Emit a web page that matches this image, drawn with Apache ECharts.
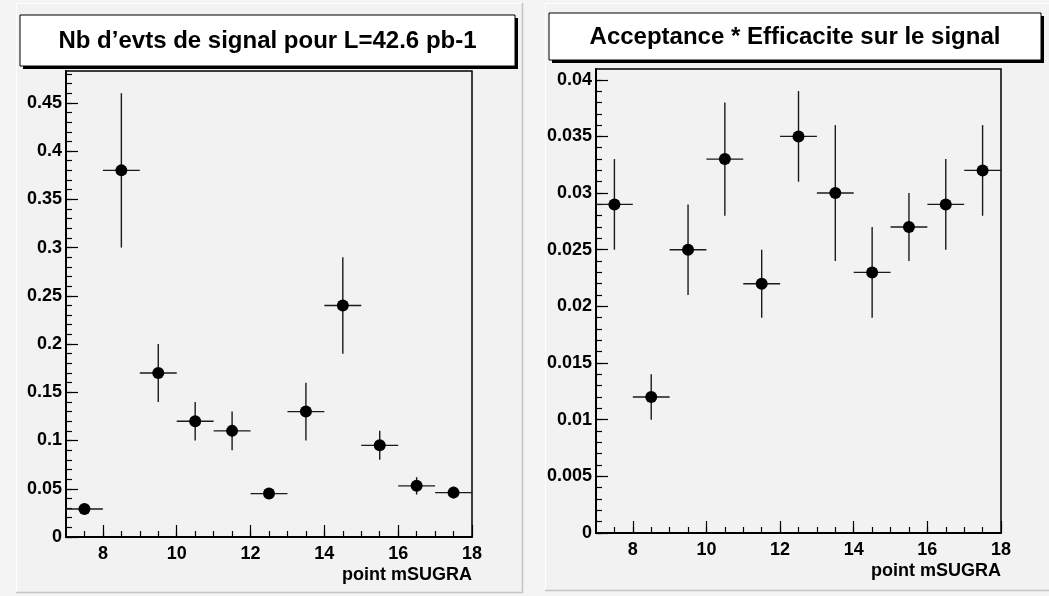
<!DOCTYPE html>
<html>
<head>
<meta charset="utf-8">
<script src="https://cdn.jsdelivr.net/npm/echarts@6/dist/echarts.min.js"></script>
<style>
html,body{margin:0;padding:0;background:#f4f4f4;}
#chart{width:1049px;height:596px;}
</style>
</head>
<body>
<div id="chart"></div>
<script>
// ---- data ----
var pointX = [7.5, 8.5, 9.5, 10.5, 11.5, 12.5, 13.5, 14.5, 15.5, 16.5, 17.5];
var signalValues = [0.029, 0.38, 0.17, 0.12, 0.11, 0.045, 0.13, 0.24, 0.095, 0.053, 0.046];
var signalErrors = [0.003, 0.08, 0.03, 0.02, 0.02, 0.004, 0.03, 0.05, 0.015, 0.009, 0.006];
var acceptValues = [0.029, 0.012, 0.025, 0.033, 0.022, 0.035, 0.030, 0.023, 0.027, 0.029, 0.032];
var acceptErrors = [0.004, 0.002, 0.004, 0.005, 0.003, 0.004, 0.006, 0.004, 0.003, 0.004, 0.004];
var binHalfWidth = 0.5;

// ---- axis ticks ----
var xTicks = [8, 10, 12, 14, 16, 18];
var xMinorTicks = [7.5, 8, 8.5, 9, 9.5, 10, 10.5, 11, 11.5, 12, 12.5, 13, 13.5, 14, 14.5, 15, 15.5, 16, 16.5, 17, 17.5];
var xRange = [7, 18];
var leftYTicks = [0, 0.05, 0.1, 0.15, 0.2, 0.25, 0.3, 0.35, 0.4, 0.45];
var leftYRange = [0, 0.483];
var rightYTicks = [0, 0.005, 0.01, 0.015, 0.02, 0.025, 0.03, 0.035, 0.04];
var rightYRange = [0, 0.04095];

var leftTitle = 'Nb d\u2019evts de signal pour L=42.6 pb-1';
var rightTitle = 'Acceptance * Efficacite sur le signal';
var xTitle = 'point mSUGRA';

function subdivide(ticks, n, maxVal) {
  var out = [];
  var step = (ticks[1] - ticks[0]) / n;
  for (var v = ticks[0]; v <= maxVal + 1e-12; v += step) {
    out.push(+v.toFixed(6));
  }
  return out;
}
var leftYMinor = subdivide(leftYTicks, 5, leftYRange[1]);
var rightYMinor = subdivide(rightYTicks, 5, rightYRange[1]);

var FONT = '"Liberation Sans", Arial, Helvetica, sans-serif';

function fmt(v) {
  if (v === 0) return '0';
  return String(+v.toFixed(4));
}

function xAxes(grid) {
  return [{
    gridIndex: grid, type: 'value', min: xRange[0], max: xRange[1], position: 'bottom',
    axisLine: {show: true, onZero: false, lineStyle: {color: '#000', width: 2}},
    axisTick: {show: true, inside: true, length: 12, customValues: xTicks, lineStyle: {color: '#000', width: 1.2}},
    axisLabel: {show: true, customValues: xTicks, color: '#000', fontSize: 18, fontWeight: 'bold', fontFamily: FONT, margin: 8},
    splitLine: {show: false},
    name: xTitle, nameLocation: 'end', nameGap: 0,
    nameTextStyle: {color: '#000', fontSize: 18, fontWeight: 'bold', fontFamily: FONT, align: 'right', verticalAlign: 'top', padding: [29, 0, 0, 0]}
  }, {
    gridIndex: grid, type: 'value', min: xRange[0], max: xRange[1], position: 'bottom', offset: 0,
    axisLine: {show: false, onZero: false},
    axisTick: {show: true, inside: true, length: 6, customValues: xMinorTicks, lineStyle: {color: '#000', width: 1.2}},
    axisLabel: {show: false},
    splitLine: {show: false}
  }];
}
function yAxes(grid, range, ticks, minor) {
  return [{
    gridIndex: grid, type: 'value', min: range[0], max: range[1], position: 'left',
    axisLine: {show: true, onZero: false, lineStyle: {color: '#000', width: 2}},
    axisTick: {show: true, inside: true, length: 12, customValues: ticks, lineStyle: {color: '#000', width: 1.2}},
    axisLabel: {show: true, customValues: ticks, color: '#000', fontSize: 18, fontWeight: 'bold', fontFamily: FONT, margin: 4, formatter: fmt},
    splitLine: {show: false}
  }, {
    gridIndex: grid, type: 'value', min: range[0], max: range[1], position: 'left', offset: 0,
    axisLine: {show: false, onZero: false},
    axisTick: {show: true, inside: true, length: 6, customValues: minor, lineStyle: {color: '#000', width: 1.2}},
    axisLabel: {show: false},
    splitLine: {show: false}
  }];
}

function errData(values, errors) {
  return pointX.map(function (x, i) { return [x, values[i], errors[i]]; });
}
function ptData(values) {
  return pointX.map(function (x, i) { return [x, values[i]]; });
}
function renderErr(params, api) {
  var x = api.value(0), y = api.value(1), e = api.value(2);
  var l = api.coord([x - binHalfWidth, y]);
  var r = api.coord([x + binHalfWidth, y]);
  var t = api.coord([x, y + e]);
  var b = api.coord([x, y - e]);
  var style = {stroke: '#1a1a1a', lineWidth: 1.4};
  return {
    type: 'group',
    children: [
      {type: 'line', shape: {x1: l[0], y1: l[1], x2: r[0], y2: r[1]}, style: style},
      {type: 'line', shape: {x1: t[0], y1: t[1], x2: b[0], y2: b[1]}, style: style}
    ]
  };
}

function titleBox(x, y, w, h, text) {
  return {
    type: 'group', children: [
      {type: 'rect', shape: {x: x + 3, y: y + 3, width: w, height: h}, style: {fill: '#000'}},
      {type: 'rect', shape: {x: x, y: y, width: w, height: h}, style: {fill: '#fff', stroke: '#000', lineWidth: 1}},
      {type: 'text', x: x + w / 2, y: y + h / 2 + 1, style: {text: text, fill: '#000', font: 'bold 24px ' + FONT, textAlign: 'center', textVerticalAlign: 'middle'}}
    ]
  };
}
function pad(x, y, w, h) {
  return {
    type: 'group', silent: true, z: -10, children: [
      {type: 'rect', z: -10, shape: {x: x, y: y, width: w, height: h}, style: {fill: '#f2f2f2', stroke: null}},
      {type: 'polyline', z: -9, shape: {points: [[x + 0.5, y + h], [x + 0.5, y + 0.5], [x + w, y + 0.5]]}, style: {stroke: '#ffffff', lineWidth: 1, fill: null}},
      {type: 'polyline', z: -9, shape: {points: [[x + w - 0.5, y], [x + w - 0.5, y + h - 0.5], [x, y + h - 0.5]]}, style: {stroke: '#c4c4c4', lineWidth: 1.5, fill: null}}
    ]
  };
}

var chart = echarts.init(document.getElementById('chart'), null, {renderer: 'canvas'});
chart.setOption({
  backgroundColor: '#f4f4f4',
  animation: false,
  textStyle: {fontFamily: FONT},
  graphic: [
    pad(16, 3, 507, 590),
    pad(545, 3, 510, 588),
    titleBox(20, 15, 495, 51, leftTitle),
    titleBox(549, 13, 492, 47, rightTitle)
  ],
  grid: [
    {left: 66, top: 71, width: 406, height: 466, show: true, backgroundColor: '#f2f2f2', borderColor: '#000', borderWidth: 1.5},
    {left: 596, top: 69, width: 405, height: 464, show: true, backgroundColor: '#f2f2f2', borderColor: '#000', borderWidth: 1.5}
  ],
  xAxis: xAxes(0).concat(xAxes(1)),
  yAxis: yAxes(0, leftYRange, leftYTicks, leftYMinor).concat(yAxes(1, rightYRange, rightYTicks, rightYMinor)),
  series: [
    {type: 'custom', xAxisIndex: 0, yAxisIndex: 0, renderItem: renderErr, data: errData(signalValues, signalErrors), z: 2, clip: false},
    {type: 'scatter', xAxisIndex: 0, yAxisIndex: 0, data: ptData(signalValues), symbol: 'circle', symbolSize: 12, itemStyle: {color: '#000', opacity: 1}, z: 3},
    {type: 'custom', xAxisIndex: 2, yAxisIndex: 2, renderItem: renderErr, data: errData(acceptValues, acceptErrors), z: 2, clip: false},
    {type: 'scatter', xAxisIndex: 2, yAxisIndex: 2, data: ptData(acceptValues), symbol: 'circle', symbolSize: 12, itemStyle: {color: '#000', opacity: 1}, z: 3}
  ]
});
</script>
</body>
</html>
